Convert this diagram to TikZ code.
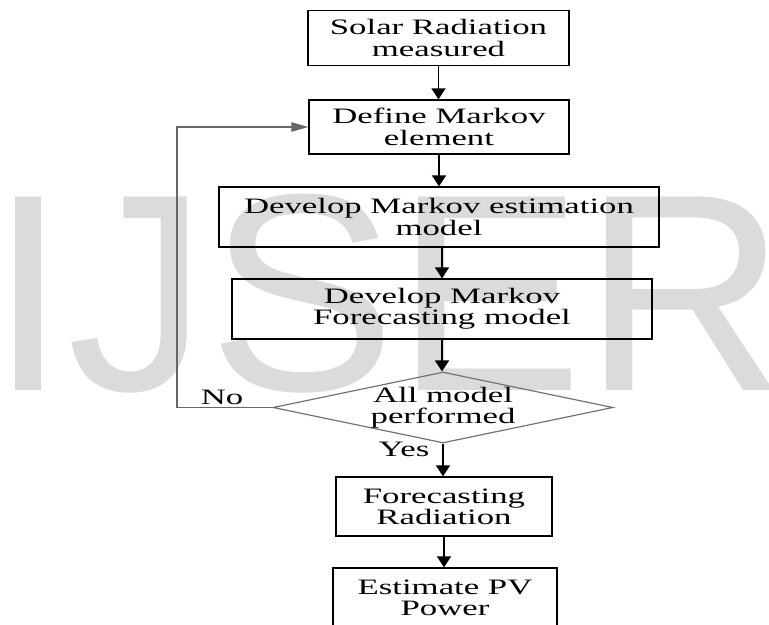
\documentclass[tikz,border=0pt]{standalone}
\usepackage{fontspec}
\setmainfont[FakeStretch=1.58]{Liberation Serif}
\newfontfamily\wmfont{Liberation Sans}
\usetikzlibrary{shapes.geometric,arrows.meta}

\begin{document}
\begin{tikzpicture}[x=0.75pt,y=-0.75pt,
  box/.style={draw,line width=1pt,align=center,inner sep=0pt,font=\fontsize{16.5pt}{16pt}\selectfont},
  decide/.style={diamond,draw=black!55,line width=0.9pt,align=center,inner sep=-2pt,aspect=4.8,minimum width=255pt,minimum height=53.25pt,font=\fontsize{16.5pt}{16pt}\selectfont},
  arr/.style={line width=1.3pt,-{Triangle[width=10.5pt,length=8.25pt]}},
  back/.style={draw=black!60,line width=1.2pt,-{Triangle[width=7pt,length=12.75pt]}},
  lbl/.style={inner sep=0pt,font=\fontsize{16.5pt}{16pt}\selectfont}]
\useasboundingbox (0,0) rectangle (769,625);
\clip (0,0) rectangle (769,625);
% watermark
\node[anchor=base west,inner sep=0pt,text=black!14,font=\wmfont\fontsize{211pt}{211pt}\selectfont] (wm) at (-11,390) {IJSER};
% boxes
\node[box,minimum width=195.75pt,minimum height=41.25pt] (solar) at (438.5,38) {Solar Radiation\\measured};
\node[box,minimum width=195pt,minimum height=40.5pt] (markov) at (439,127) {Define Markov\\element};
\node[box,minimum width=330pt,minimum height=45pt] (estim) at (439,217) {Develop Markov estimation\\model};
\node[box,minimum width=315pt,minimum height=45pt] (fcast) at (442,309) {Develop Markov\\Forecasting model};
\node[decide] (perf) at (443,407.5) {All model\\performed};
\node[box,minimum width=162pt,minimum height=44.25pt] (rad) at (444,506.5) {Forecasting\\Radiation};
\node[box,minimum width=168pt,minimum height=45pt] (pv) at (445,598) {Estimate PV\\Power};
% arrows
\draw[arr] (solar.south) -- (solar.south |- markov.north);
\draw[arr] (markov.south) -- (markov.south |- estim.north);
\draw[arr] (estim.south -| fcast.north) -- (fcast.north);
\draw[arr] (fcast.south) -- (fcast.south |- perf.north);
\draw[arr] (perf.south) -- (perf.south |- rad.north);
\draw[arr] (rad.south) -- (rad.south |- pv.north);
% loop back
\coordinate (turn) at (177,407.5);
\draw[back] (perf.west) -- (turn) |- (markov.west);
\node[lbl] (no) at (222,397) {No};
\node[lbl] (yes) at (404,449) {Yes};
\end{tikzpicture}
\end{document}
